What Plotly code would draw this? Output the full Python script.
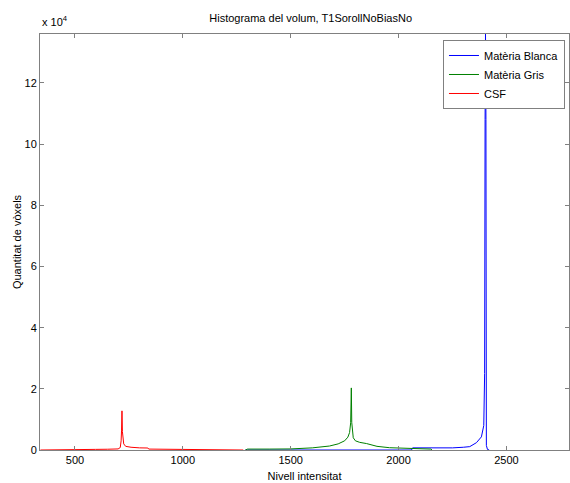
import plotly.graph_objects as go

# Matèria Blanca (blue)
blanca_x = [1290, 2060, 2065, 2150, 2250, 2300, 2330, 2361, 2384, 2395, 2399, 2401, 2403, 2405, 2407, 2412, 2420]
blanca_y = [0, 0, 700, 600, 700, 900, 1100, 2400, 4300, 8000, 25000, 108000, 136000, 108000, 1500, 200, 0]

# Matèria Gris (green)
gris_x = [1290, 1300, 1400, 1500, 1600, 1680, 1720, 1750, 1765, 1773, 1778, 1781, 1783, 1786, 1790, 1800, 1820, 1852, 1900, 1958, 2000, 2050, 2100, 2150, 2155]
gris_y = [0, 300, 300, 350, 700, 1300, 2000, 3000, 4200, 5700, 8900, 20300, 9000, 5500, 4000, 3000, 2500, 2100, 1200, 750, 600, 500, 400, 300, 0]

# CSF (red)
csf_x = [340, 500, 590, 595, 650, 700, 710, 714, 716, 718, 720, 722, 726, 735, 760, 800, 838, 842, 900, 950, 1000, 1050, 1100, 1150, 1200, 1250, 1275, 1280]
csf_y = [0, 0, 0, 200, 250, 350, 800, 3000, 6500, 12800, 6000, 3500, 2000, 1200, 900, 700, 650, 300, 250, 200, 300, 200, 250, 150, 200, 150, 100, 0]

x_ticks = [500, 1000, 1500, 2000, 2500]
y_ticks = [0, 20000, 40000, 60000, 80000, 100000, 120000]
y_ticklabels = ["0", "2", "4", "6", "8", "10", "12"]

FONT = "Liberation Sans, Arial, sans-serif"

fig = go.Figure()
fig.add_trace(go.Scatter(x=blanca_x, y=blanca_y, mode="lines", name="Matèria Blanca",
                         line=dict(color="#0000ff", width=1)))
fig.add_trace(go.Scatter(x=gris_x, y=gris_y, mode="lines", name="Matèria Gris",
                         line=dict(color="#008000", width=1)))
fig.add_trace(go.Scatter(x=csf_x, y=csf_y, mode="lines", name="CSF",
                         line=dict(color="#ff0000", width=1)))

axis_common = dict(showline=True, linecolor="#808080", linewidth=1, mirror="ticks",
                   ticks="inside", ticklen=4, tickcolor="#808080", showgrid=False,
                   zeroline=False, tickfont=dict(size=11, color="black", family=FONT))

fig.update_layout(
    width=570, height=483,
    margin=dict(l=40, r=1, t=34, b=33),
    paper_bgcolor="white", plot_bgcolor="white",
    font=dict(family=FONT, size=11, color="black"),
    title=dict(text="Histograma del volum, T1SorollNoBiasNo", x=0.545, xanchor="center",
               y=1 - 18 / 483, yanchor="middle", font=dict(size=11, family=FONT)),
    xaxis=dict(range=[338, 2790], tickvals=x_ticks,
               title=dict(text="Nivell intensitat", standoff=7, font=dict(size=11)),
               **axis_common),
    yaxis=dict(range=[0, 136000], tickvals=y_ticks, ticktext=y_ticklabels,
               title=dict(text="Quantitat de vòxels", standoff=0, font=dict(size=11)),
               **axis_common),
    legend=dict(x=0.9924, y=0.9856, xanchor="right", yanchor="top",
                bgcolor="white", bordercolor="#808080", borderwidth=1,
                font=dict(size=11, family=FONT), tracegroupgap=0),
    showlegend=True,
    annotations=[dict(text="x 10<sup>4</sup>", xref="paper", yref="paper",
                      x=0.0, y=1.0, xanchor="left", yanchor="bottom", yshift=4,
                      showarrow=False, font=dict(size=11, family=FONT))],
)

fig.write_html("out.html", config={"displayModeBar": False},
               post_script="document.body.style.margin='0';document.body.style.overflow='hidden';")
